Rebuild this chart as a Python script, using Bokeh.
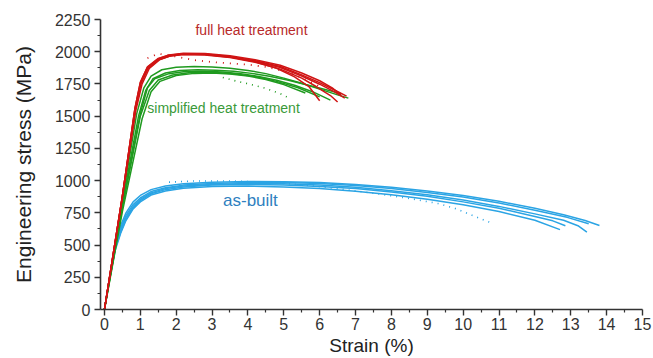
from bokeh.plotting import figure
from bokeh.models import Range1d, FixedTicker
from bokeh.embed import file_html
from bokeh.resources import INLINE
from bokeh.core.properties import value

# ---------------- data ----------------
# as-built (blue)
b1_strain = [0, 0.15, 0.3, 0.45, 0.6, 0.8, 1.0, 1.3, 1.7, 2.2, 3.0, 4.0, 5.0, 6.0, 7.0, 8.0, 9.0, 10.0, 11.0, 12.0, 12.8, 13.4, 13.8]
b1_stress = [0, 260, 500, 650, 750, 835, 885, 930, 958, 975, 988, 993, 992, 985, 970, 948, 920, 885, 840, 785, 735, 690, 652]
b2_strain = [0, 0.15, 0.3, 0.45, 0.6, 0.8, 1.0, 1.3, 1.7, 2.2, 3.0, 4.0, 5.0, 6.0, 7.0, 8.0, 9.0, 10.0, 11.0, 12.0, 12.9, 13.5]
b2_stress = [0, 255, 490, 630, 730, 815, 865, 915, 945, 965, 978, 985, 985, 978, 962, 938, 908, 872, 826, 770, 715, 665]
b3_strain = [0, 0.15, 0.3, 0.45, 0.6, 0.8, 1.0, 1.3, 1.7, 2.2, 3.0, 4.0, 5.0, 6.0, 7.0, 8.0, 9.0, 10.0, 11.0, 12.0, 12.8, 13.2, 13.45]
b3_stress = [0, 250, 480, 615, 715, 800, 855, 905, 938, 958, 970, 978, 975, 965, 948, 922, 890, 850, 800, 742, 692, 650, 600]
b4_strain = [0, 0.15, 0.3, 0.45, 0.6, 0.8, 1.0, 1.3, 1.7, 2.2, 3.0, 4.0, 5.0, 6.0, 7.0, 8.0, 9.0, 10.0, 11.0, 12.0, 12.5, 12.85]
b4_stress = [0, 250, 470, 600, 700, 790, 845, 898, 930, 950, 965, 970, 965, 955, 938, 912, 878, 835, 785, 722, 688, 650]
b5_strain = [0, 0.15, 0.3, 0.45, 0.6, 0.8, 1.0, 1.3, 1.7, 2.2, 3.0, 4.0, 5.0, 6.0, 7.0, 8.0, 9.0, 10.0, 11.0, 12.0, 12.7]
b5_stress = [0, 245, 460, 590, 690, 780, 835, 888, 920, 940, 955, 958, 950, 938, 918, 890, 855, 812, 760, 692, 620]
bd_strain = [1.8, 2.5, 3.5, 4.5, 5.5, 6.5, 7.5, 8.5, 9.3, 9.8, 10.3, 10.8]
bd_stress = [988, 997, 997, 988, 968, 938, 902, 862, 822, 782, 725, 670]

# simplified heat treatment (green)
g1_strain = [0, 0.5, 0.9, 1.1, 1.3, 1.6, 2.0, 2.5, 3.0, 3.5, 4.0, 4.5, 5.0, 5.5, 6.0, 6.5, 6.8]
g1_stress = [0, 850, 1520, 1720, 1810, 1860, 1880, 1885, 1882, 1872, 1855, 1830, 1795, 1755, 1710, 1665, 1640]
g2_strain = [0, 0.5, 0.95, 1.15, 1.35, 1.7, 2.1, 2.6, 3.1, 3.6, 4.1, 4.6, 5.1, 5.6, 6.1, 6.6]
g2_stress = [0, 830, 1500, 1700, 1790, 1835, 1855, 1860, 1857, 1848, 1832, 1810, 1780, 1745, 1710, 1675]
g3_strain = [0, 0.5, 1.0, 1.2, 1.4, 1.8, 2.2, 2.8, 3.3, 3.8, 4.3, 4.8, 5.3, 5.8, 6.3]
g3_stress = [0, 800, 1520, 1720, 1790, 1830, 1845, 1848, 1843, 1830, 1808, 1778, 1740, 1690, 1625]
g4_strain = [0, 0.5, 1.0, 1.25, 1.5, 1.9, 2.4, 3.0, 3.6, 4.2, 4.8, 5.4, 6.0]
g4_stress = [0, 790, 1500, 1700, 1780, 1820, 1838, 1840, 1830, 1808, 1770, 1720, 1650]
g5_strain = [0, 0.5, 1.05, 1.3, 1.55, 2.0, 2.5, 3.0, 3.5, 4.0, 4.5, 5.0, 5.6]
g5_stress = [0, 760, 1480, 1690, 1770, 1815, 1832, 1835, 1828, 1812, 1785, 1745, 1680]
gd_strain = [3.3, 3.7, 4.1, 4.5, 4.9, 5.15]
gd_stress = [1800, 1770, 1745, 1715, 1675, 1640]

# full heat treatment (red)
r1_strain = [0, 0.5, 0.85, 1.0, 1.2, 1.5, 1.8, 2.2, 2.8, 3.5, 4.2, 4.9, 5.5, 6.0, 6.4, 6.75]
r1_stress = [0, 880, 1560, 1760, 1880, 1945, 1972, 1985, 1982, 1962, 1930, 1885, 1820, 1760, 1705, 1655]
r2_strain = [0, 0.5, 0.85, 1.0, 1.2, 1.5, 1.8, 2.2, 2.8, 3.5, 4.2, 4.9, 5.5, 5.9, 6.3, 6.5]
r2_stress = [0, 880, 1550, 1745, 1865, 1935, 1965, 1978, 1975, 1955, 1918, 1865, 1795, 1730, 1660, 1610]
r3_strain = [0, 0.5, 0.88, 1.05, 1.25, 1.55, 1.85, 2.2, 2.8, 3.5, 4.2, 4.8, 5.3, 5.7, 6.0]
r3_stress = [0, 870, 1550, 1750, 1870, 1940, 1968, 1980, 1978, 1958, 1922, 1872, 1805, 1730, 1620]
r4_strain = [0, 0.5, 0.86, 1.02, 1.22, 1.52, 1.82, 2.2, 2.8, 3.5, 4.2, 4.9, 5.5, 6.0, 6.4, 6.7]
r4_stress = [0, 875, 1555, 1755, 1875, 1942, 1970, 1982, 1980, 1960, 1926, 1878, 1812, 1748, 1690, 1640]
r5_strain = [0, 0.5, 0.85, 1.0, 1.2, 1.5, 1.8, 2.2, 2.8, 3.5, 4.2, 4.9, 5.5, 6.0, 6.35, 6.6]
r5_stress = [0, 882, 1560, 1762, 1882, 1948, 1975, 1988, 1986, 1968, 1938, 1895, 1835, 1775, 1720, 1662]
rd_strain = [1.2, 1.5, 2.0, 2.5, 3.0, 3.5, 4.0, 4.5, 5.0, 5.5, 6.0]
rd_stress = [1950, 1985, 1962, 1935, 1920, 1910, 1900, 1882, 1850, 1800, 1730]

# tick values and annotations
x_ticks = list(range(0, 16))
y_ticks = [0, 250, 500, 750, 1000, 1250, 1500, 1750, 2000, 2250]
labels = ["full heat treatment", "simplified heat treatment", "as-built"]
label_x = [4.1, 3.32, 4.07]
label_y = [2165, 1565, 845]
x_title = "Strain (%)"
y_title = "Engineering stress (MPa)"

blue_curves = [(b1_strain, b1_stress), (b2_strain, b2_stress), (b3_strain, b3_stress),
               (b4_strain, b4_stress), (b5_strain, b5_stress)]
green_curves = [(g1_strain, g1_stress), (g2_strain, g2_stress), (g3_strain, g3_stress),
                (g4_strain, g4_stress), (g5_strain, g5_stress)]
red_curves = [(r1_strain, r1_stress), (r2_strain, r2_stress), (r3_strain, r3_stress),
              (r4_strain, r4_stress), (r5_strain, r5_stress)]

BLUE = "#2ba4e4"
GREEN = "#1f9a1f"
RED = "#d01414"

p = figure(width=653, height=358, output_backend="svg", toolbar_location=None,
           x_range=Range1d(-0.11, 15), y_range=Range1d(0, 2250),
           min_border_left=100, min_border_right=11, min_border_top=19, min_border_bottom=49)
p.outline_line_color = None
p.xgrid.visible = False
p.ygrid.visible = False
p.background_fill_color = "white"

for xs, ys in blue_curves:
    p.line(xs, ys, line_color=BLUE, line_width=1.5, line_join="round")
p.line(bd_strain, bd_stress, line_color=BLUE, line_width=1.6, line_dash="1 5")

for xs, ys in green_curves:
    p.line(xs, ys, line_color=GREEN, line_width=1.5, line_join="round")
p.line(gd_strain, gd_stress, line_color=GREEN, line_width=1.6, line_dash="1 5")

for xs, ys in red_curves:
    p.line(xs, ys, line_color=RED, line_width=1.5, line_join="round")
p.line(rd_strain, rd_stress, line_color=RED, line_width=1.8, line_dash="1 6")

label_colors = ["#b82a2a", "#3a9a3a", "#2f7fc0"]
label_sizes = ["14px", "14px", "17px"]
for t, x, y, c, s in zip(labels, label_x, label_y, label_colors, label_sizes):
    p.text(x=[x], y=[y], text=[t], text_color=c, text_font=value("Liberation Sans"),
           text_font_size=s, text_align="center", text_baseline="middle")

p.xaxis.ticker = FixedTicker(ticks=x_ticks, minor_ticks=[i + 0.5 for i in range(15)])
p.yaxis.ticker = FixedTicker(ticks=y_ticks, minor_ticks=[v + 125 for v in y_ticks[:-1]])
p.xaxis.axis_label = x_title
p.yaxis.axis_label = y_title

for ax in (p.xaxis[0], p.yaxis[0]):
    ax.axis_line_color = "#333333"
    ax.axis_line_width = 1.6
    ax.major_tick_line_color = "#333333"
    ax.minor_tick_line_color = "#333333"
    ax.major_tick_line_width = 1.4
    ax.minor_tick_line_width = 1.2
    ax.major_tick_in = 0
    ax.major_tick_out = 6
    ax.minor_tick_in = 0
    ax.minor_tick_out = 3
    ax.major_label_text_font = "Liberation Sans"
    ax.major_label_text_font_size = "16px"
    ax.major_label_text_color = "#333333"
    ax.axis_label_text_font = "Liberation Sans"
    ax.axis_label_text_font_style = "normal"
    ax.axis_label_text_color = "#222222"

p.xaxis.axis_label_text_font_size = "19px"
p.yaxis.axis_label_text_font_size = "21px"
p.yaxis.major_label_standoff = 4
p.yaxis.axis_label_standoff = 17
p.xaxis.major_label_standoff = 2
p.xaxis.axis_label_standoff = 2

open("out.html", "w").write(file_html(p, INLINE))
